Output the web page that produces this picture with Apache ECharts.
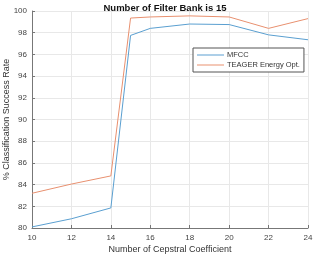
<!DOCTYPE html>
<html><head><meta charset="utf-8">
<script src="https://cdn.jsdelivr.net/npm/echarts@6/dist/echarts.min.js"></script>
<style>html,body{margin:0;padding:0;background:#fff}#c{width:315px;height:255px}</style>
</head><body><div id="c"></div>
<script>
const cepstral = [10, 12, 14, 15, 16, 18, 20, 22, 24];
const mfcc = [80.1, 80.85, 81.85, 97.75, 98.4, 98.8, 98.75, 97.8, 97.35];
const teager = [83.2, 84.05, 84.8, 99.35, 99.45, 99.55, 99.45, 98.4, 99.3];
const seriesNames = ['MFCC', 'TEAGER Energy Opt.'];
const titleText = 'Number of Filter Bank is 15';
const xName = 'Number of Cepstral Coefficient';
const yName = '% Classification Success Rate';

const font = 'Liberation Sans, Arial, sans-serif';
const chart = echarts.init(document.getElementById('c'), null, {renderer: 'canvas'});
const pair = (xs, ys) => xs.map((x, i) => [x, ys[i]]);
chart.setOption({
  animation: false,
  title: {text: titleText, left: 160, textAlign: 'center', top: -2,
    textStyle: {fontFamily: font, fontSize: 9.5, fontWeight: 'bold', color: '#111'}},
  grid: {left: 32, right: 7, top: 11, bottom: 27, containLabel: false, outerBoundsMode: 'none'},
  legend: {
    orient: 'vertical', left: 193, top: 48,
    backgroundColor: '#fff', borderColor: '#555', borderWidth: 1,
    padding: [3, 4, 3, 4], itemGap: 2, itemWidth: 27, itemHeight: 8,
    icon: 'path://M0,4 L27,4 L27,5 L0,5 Z',
    textStyle: {fontFamily: font, fontSize: 7.5, color: '#333', padding: [0, 0, 0, -2]},
    data: seriesNames
  },
  xAxis: {
    type: 'value', min: 10, max: 24, interval: 2,
    name: xName, nameLocation: 'middle', nameGap: 17, nameMoveOverlap: false,
    nameTextStyle: {fontFamily: font, fontSize: 9, color: '#333'},
    axisLine: {show: true, lineStyle: {color: '#777', width: 1}},
    axisTick: {show: true, inside: true, length: 3, lineStyle: {color: '#777'}},
    axisLabel: {fontFamily: font, fontSize: 8, color: '#444', margin: 6},
    splitLine: {show: true, lineStyle: {color: '#e8e8e8', width: 1}}
  },
  yAxis: {
    type: 'value', min: 80, max: 100, interval: 2,
    name: yName, nameLocation: 'middle', nameGap: 21, nameRotate: 90, nameMoveOverlap: false,
    nameTextStyle: {fontFamily: font, fontSize: 9, color: '#333'},
    axisLine: {show: true, lineStyle: {color: '#777', width: 1}},
    axisTick: {show: true, inside: true, length: 3, lineStyle: {color: '#777'}},
    axisLabel: {fontFamily: font, fontSize: 8, color: '#444', margin: 5},
    splitLine: {show: true, lineStyle: {color: '#e8e8e8', width: 1}}
  },
  series: [
    {name: seriesNames[0], type: 'line', data: pair(cepstral, mfcc), showSymbol: false, symbol: 'none',
      lineStyle: {color: '#5a9fd0', width: 1}, itemStyle: {color: '#5a9fd0'}},
    {name: seriesNames[1], type: 'line', data: pair(cepstral, teager), showSymbol: false, symbol: 'none',
      lineStyle: {color: '#e8906f', width: 1}, itemStyle: {color: '#e8906f'}}
  ]
});
</script></body></html>
